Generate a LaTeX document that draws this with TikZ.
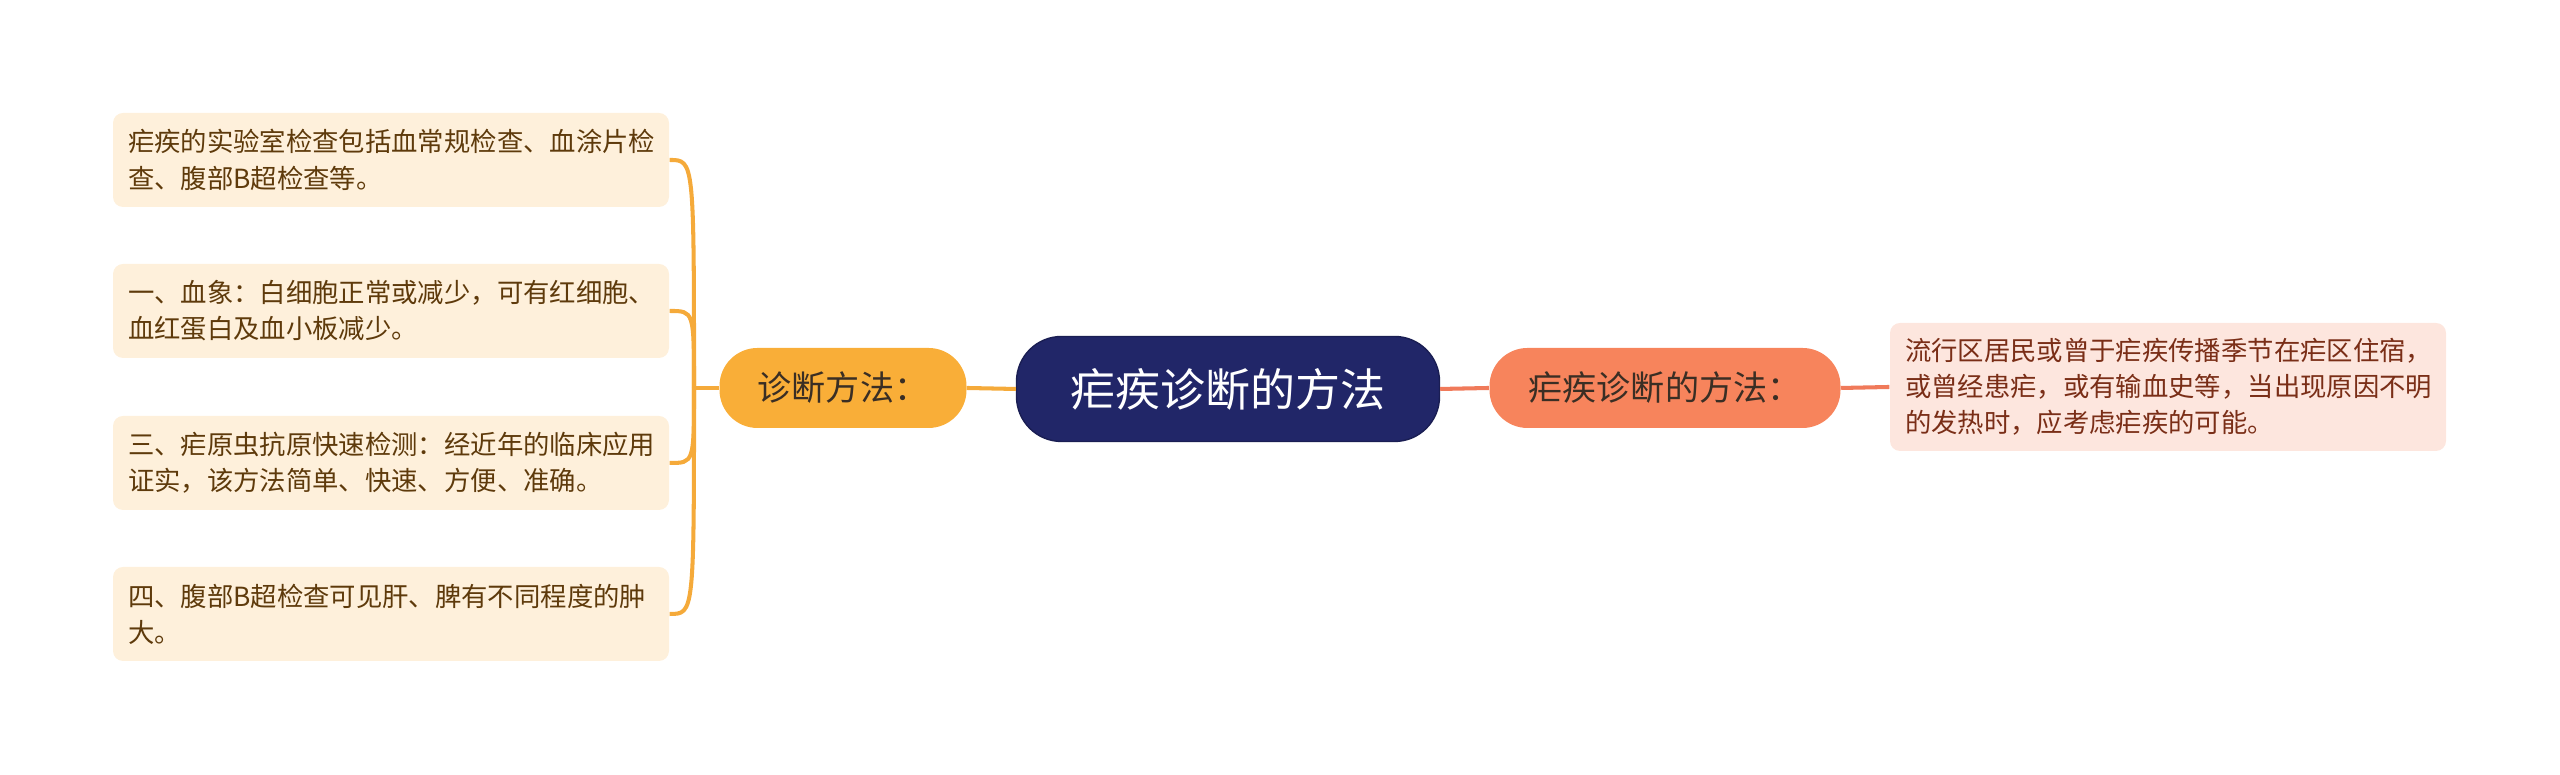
\documentclass[tikz,border=0pt]{standalone}
\usepackage{fontspec}
\setmainfont{Noto Sans CJK SC}
\usepackage{tikz}

\definecolor{rootblue}{HTML}{212668}
\definecolor{leftorange}{HTML}{F9AE38}
\definecolor{leftline}{HTML}{F5AA3A}
\definecolor{leftleaf}{HTML}{FEF0DB}
\definecolor{lefttext}{HTML}{5E3A0B}
\definecolor{rightcoral}{HTML}{F7845C}
\definecolor{rightline}{HTML}{F07A5A}
\definecolor{rightleaf}{HTML}{FDE6DE}
\definecolor{righttext}{HTML}{7A2E17}
\definecolor{branchtext}{HTML}{3A2E24}

\tikzset{
  rootnode/.style={fill=rootblue, draw=rootblue!80!black, rounded corners=0.45cm, minimum width=4.23cm, minimum height=1.05cm, text=white, font=\fontsize{12.8}{15}\selectfont},
  branchnode/.style={rounded corners=0.38cm, minimum height=0.8cm, text=branchtext, font=\fontsize{9.7}{12}\selectfont},
  leafnode/.style={rounded corners=0.1cm, text width=5.26cm, inner xsep=0.15cm, align=left, font=\fontsize{7.5}{10.3}\selectfont},
  lline/.style={draw=leftline, line width=1.15pt},
  rline/.style={draw=rightline, line width=1.15pt}
}

\begin{document}
\begin{tikzpicture}
\useasboundingbox (0,0) rectangle (25.6,7.75);
% centre
\node[rootnode] (root) at (12.28,3.86) {疟疾诊断的方法};
% left side
\node[branchnode, fill=leftorange, minimum width=2.47cm] (diag) at (8.43,3.87) {诊断方法：};
\node[leafnode, fill=leftleaf, text=lefttext, minimum height=0.94cm] (lab) at (3.91,6.15) {疟疾的实验室检查包括血常规检查、血涂片检\\查、腹部B超检查等。};
\node[leafnode, fill=leftleaf, text=lefttext, minimum height=0.94cm] (blood) at (3.91,4.64) {一、血象：白细胞正常或减少，可有红细胞、\\血红蛋白及血小板减少。};
\node[leafnode, fill=leftleaf, text=lefttext, minimum height=0.94cm] (antigen) at (3.91,3.12) {三、疟原虫抗原快速检测：经近年的临床应用\\证实，该方法简单、快速、方便、准确。};
\node[leafnode, fill=leftleaf, text=lefttext, minimum height=0.94cm] (bscan) at (3.91,1.61) {四、腹部B超检查可见肝、脾有不同程度的肿\\大。};
\coordinate (fork) at (6.94,3.87);
\draw[lline] (root.west) -- (diag.east);
\draw[lline] (diag.west) -- (fork);
\draw[lline] (fork) .. controls (fork |- lab.east) .. (lab.east);
\draw[lline] (fork) .. controls (fork |- blood.east) .. (blood.east);
\draw[lline] (fork) .. controls (fork |- antigen.east) .. (antigen.east);
\draw[lline] (fork) .. controls (fork |- bscan.east) .. (bscan.east);
% right side
\node[branchnode, fill=rightcoral, minimum width=3.51cm] (method) at (16.65,3.87) {疟疾诊断的方法：};
\node[leafnode, fill=rightleaf, text=righttext, minimum height=1.28cm] (history) at (21.68,3.88) {流行区居民或曾于疟疾传播季节在疟区住宿，\\或曾经患疟，或有输血史等，当出现原因不明\\的发热时，应考虑疟疾的可能。};
\draw[rline] (root.east) -- (method.west);
\draw[rline] (method.east) -- (history.west);
\end{tikzpicture}
\end{document}
